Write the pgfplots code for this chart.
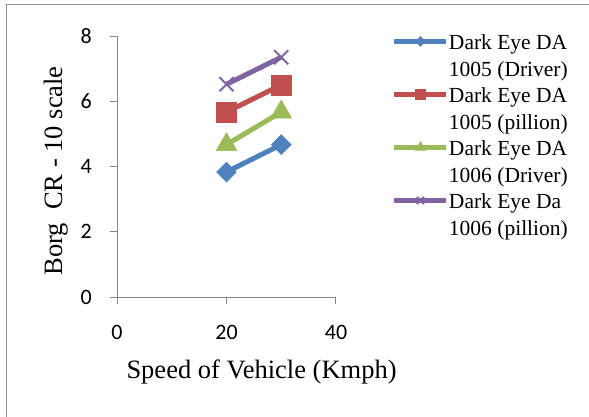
\documentclass[border=0pt]{standalone}
\usepackage{pgfplots}
\pgfplotsset{compat=1.18}
\usepackage{fontspec}
\setmainfont{Liberation Serif}
\newfontfamily\calibri{Carlito}
\definecolor{cblue}{HTML}{4F81BD}
\definecolor{cred}{HTML}{C0504D}
\definecolor{cgreen}{HTML}{9BBB59}
\definecolor{cpurple}{HTML}{8064A2}
\definecolor{axgray}{HTML}{868686}
\newcommand{\lent}[2]{\begin{tabular}[t]{@{}l@{}}#1\\#2\end{tabular}}
\begin{document}
\begin{tikzpicture}
\useasboundingbox (0,0) rectangle (589bp,417bp);
\draw[color=axgray!90, line width=1.3bp] (6.5bp,-2bp) -- (6.5bp,412.5bp) -- (592bp,412.5bp);
\begin{axis}[
  at={(117bp,120bp)}, anchor=south west,
  scale only axis, width=219bp, height=261bp,
  xmin=0, xmax=40, ymin=0, ymax=8,
  xtick={0,20,40}, ytick={0,2,4,6,8},
  axis x line*=bottom, axis y line*=left,
  axis line style={draw=axgray, line width=1bp},
  tick style={draw=axgray, line width=1bp},
  tick align=outside, major tick length=7bp,
  /pgf/number format/assume math mode=true,
  ticklabel style={font=\calibri\fontsize{22bp}{26bp}\selectfont},
  xticklabel style={anchor=base, inner sep=0pt, yshift=-35bp},
  yticklabel style={anchor=east, inner sep=0pt, xshift=-18bp},
  xlabel={Speed of Vehicle (Kmph)},
  ylabel={Borg\ \ CR - 10 scale},
  label style={font=\fontsize{26.5bp}{30bp}\selectfont},
  xlabel style={at={(axis description cs:0.66,-0.287)}, anchor=center},
  ylabel style={at={(axis description cs:-0.279,0.483)}, anchor=center, rotate=0},
  clip=false,
  legend style={draw=none, fill=none, inner sep=0pt, outer sep=0pt,
    at={(axis description cs:1.2557,1.018)}, anchor=north west,
    font=\fontsize{21.5bp}{26.5bp}\selectfont,
    row sep=33bp,
    nodes={inner sep=0pt, outer sep=0pt}},
  legend cell align=left,
  legend image code/.code={
    \draw[mark repeat=2, mark phase=2, every mark/.append style={scale=0.5}] plot coordinates {(0bp,0bp) (26bp,0bp) (52bp,0bp)};
  },
  every axis plot/.append style={line width=5bp},
]
\addplot[color=cblue, mark=square*, mark size=7bp, mark options={rotate=45, line width=0.5bp}] coordinates {(20,3.83) (30,4.67)};
\addlegendentry{\lent{Dark Eye DA}{1005 (Driver)}}
\addplot[color=cred, mark=square*, mark size=10bp, mark options={line width=0.5bp}] coordinates {(20,5.67) (30,6.5)};
\addlegendentry{\lent{Dark Eye DA}{1005 (pillion)}}
\addplot[color=cgreen, mark=triangle*, mark size=12bp, mark options={line width=0.5bp}] coordinates {(20,4.67) (30,5.67)};
\addlegendentry{\lent{Dark Eye DA}{1006 (Driver)}}
\addplot[color=cpurple, mark=x, mark size=10bp, mark options={line width=2bp}] coordinates {(20,6.52) (30,7.35)};
\addlegendentry{\lent{Dark Eye Da}{1006 (pillion)}}
\end{axis}
\end{tikzpicture}
\end{document}
